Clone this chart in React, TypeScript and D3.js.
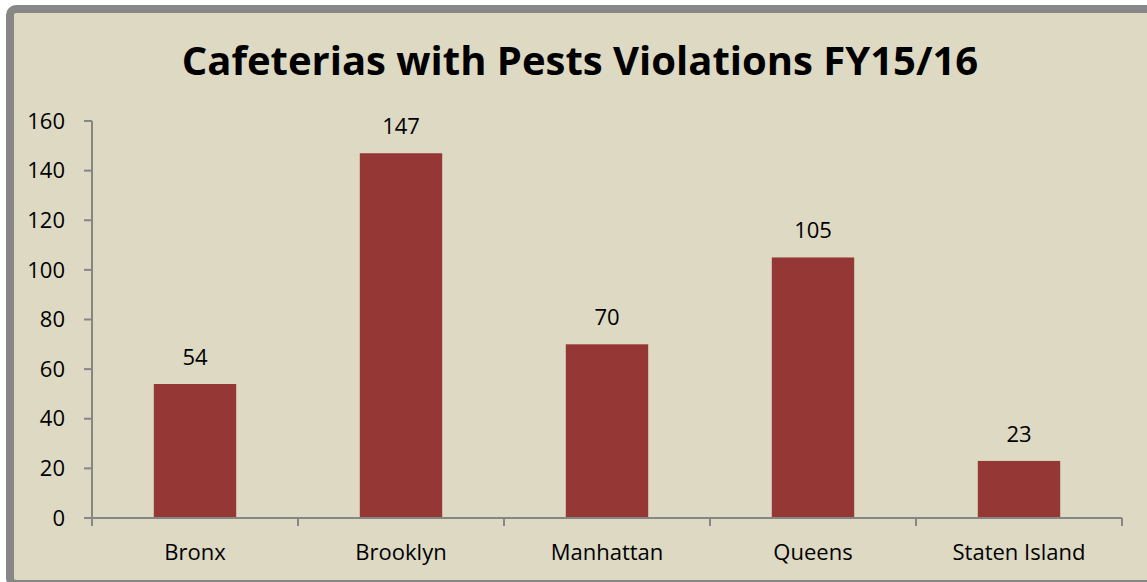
import React, { useEffect, useRef } from "react";
import * as d3 from "d3";

const categories = ["Bronx", "Brooklyn", "Manhattan", "Queens", "Staten Island"];
const values = [54, 147, 70, 105, 23];
const yTicks = [0, 20, 40, 60, 80, 100, 120, 140, 160];
const title = "Cafeterias with Pests Violations FY15/16";

const W = 1147;
const H = 582;
const FONT = "'Open Sans', Lato, sans-serif";

export default function App() {
  const ref = useRef<SVGSVGElement>(null);

  useEffect(() => {
    const svg = d3.select(ref.current);
    svg.selectAll("*").remove();

    // frame
    svg.append("rect")
      .attr("x", 10).attr("y", 9)
      .attr("width", 1150).attr("height", 575)
      .attr("rx", 6).attr("ry", 6)
      .attr("fill", "#DDD9C3")
      .attr("stroke", "#878787")
      .attr("stroke-width", 8);

    svg.append("text")
      .attr("x", 580).attr("y", 75)
      .attr("text-anchor", "middle")
      .attr("font-family", FONT)
      .attr("font-weight", "bold")
      .attr("font-size", 40)
      .attr("fill", "#000")
      .text(title);

    const x0 = 92, x1 = 1122, yTop = 121, yBot = 518;
    const x = d3.scaleBand<string>().domain(categories).range([x0, x1]).padding(0);
    const y = d3.scaleLinear().domain([0, 160]).range([yBot, yTop]);
    const axisColor = "#868686";

    const g = svg.append("g");

    // y axis
    g.append("line").attr("x1", x0).attr("x2", x0).attr("y1", yTop).attr("y2", yBot)
      .attr("stroke", axisColor).attr("stroke-width", 2);
    yTicks.forEach((t) => {
      g.append("line").attr("x1", x0 - 8).attr("x2", x0).attr("y1", y(t)).attr("y2", y(t))
        .attr("stroke", axisColor).attr("stroke-width", 2);
      g.append("text").attr("x", 65).attr("y", y(t)).attr("dy", "0.35em")
        .attr("text-anchor", "end").attr("font-family", FONT).attr("font-size", 22)
        .attr("fill", "#000").text(t);
    });

    // bars
    const bw = x.bandwidth() * 0.4;
    categories.forEach((c, i) => {
      const cx = (x(c) as number) + x.bandwidth() / 2;
      g.append("rect").attr("x", cx - bw / 2).attr("y", y(values[i]))
        .attr("width", bw).attr("height", yBot - y(values[i]))
        .attr("fill", "#953735");
      g.append("text").attr("x", cx).attr("y", y(values[i]) - 19)
        .attr("text-anchor", "middle").attr("font-family", FONT).attr("font-size", 22)
        .attr("fill", "#000").text(values[i]);
      g.append("text").attr("x", cx).attr("y", 560)
        .attr("text-anchor", "middle").attr("font-family", FONT).attr("font-size", 22)
        .attr("fill", "#000").text(c);
    });

    // x axis
    g.append("line").attr("x1", x0).attr("x2", x1).attr("y1", yBot).attr("y2", yBot)
      .attr("stroke", axisColor).attr("stroke-width", 2);
    const bounds = categories.map((c) => x(c) as number).concat([x1]);
    bounds.forEach((b) => {
      g.append("line").attr("x1", b).attr("x2", b).attr("y1", yBot).attr("y2", yBot + 8)
        .attr("stroke", axisColor).attr("stroke-width", 2);
    });
  }, []);

  return (
    <svg
      ref={ref}
      width={W}
      height={H}
      style={{ position: "absolute", left: 0, top: 0, display: "block" }}
    />
  );
}
